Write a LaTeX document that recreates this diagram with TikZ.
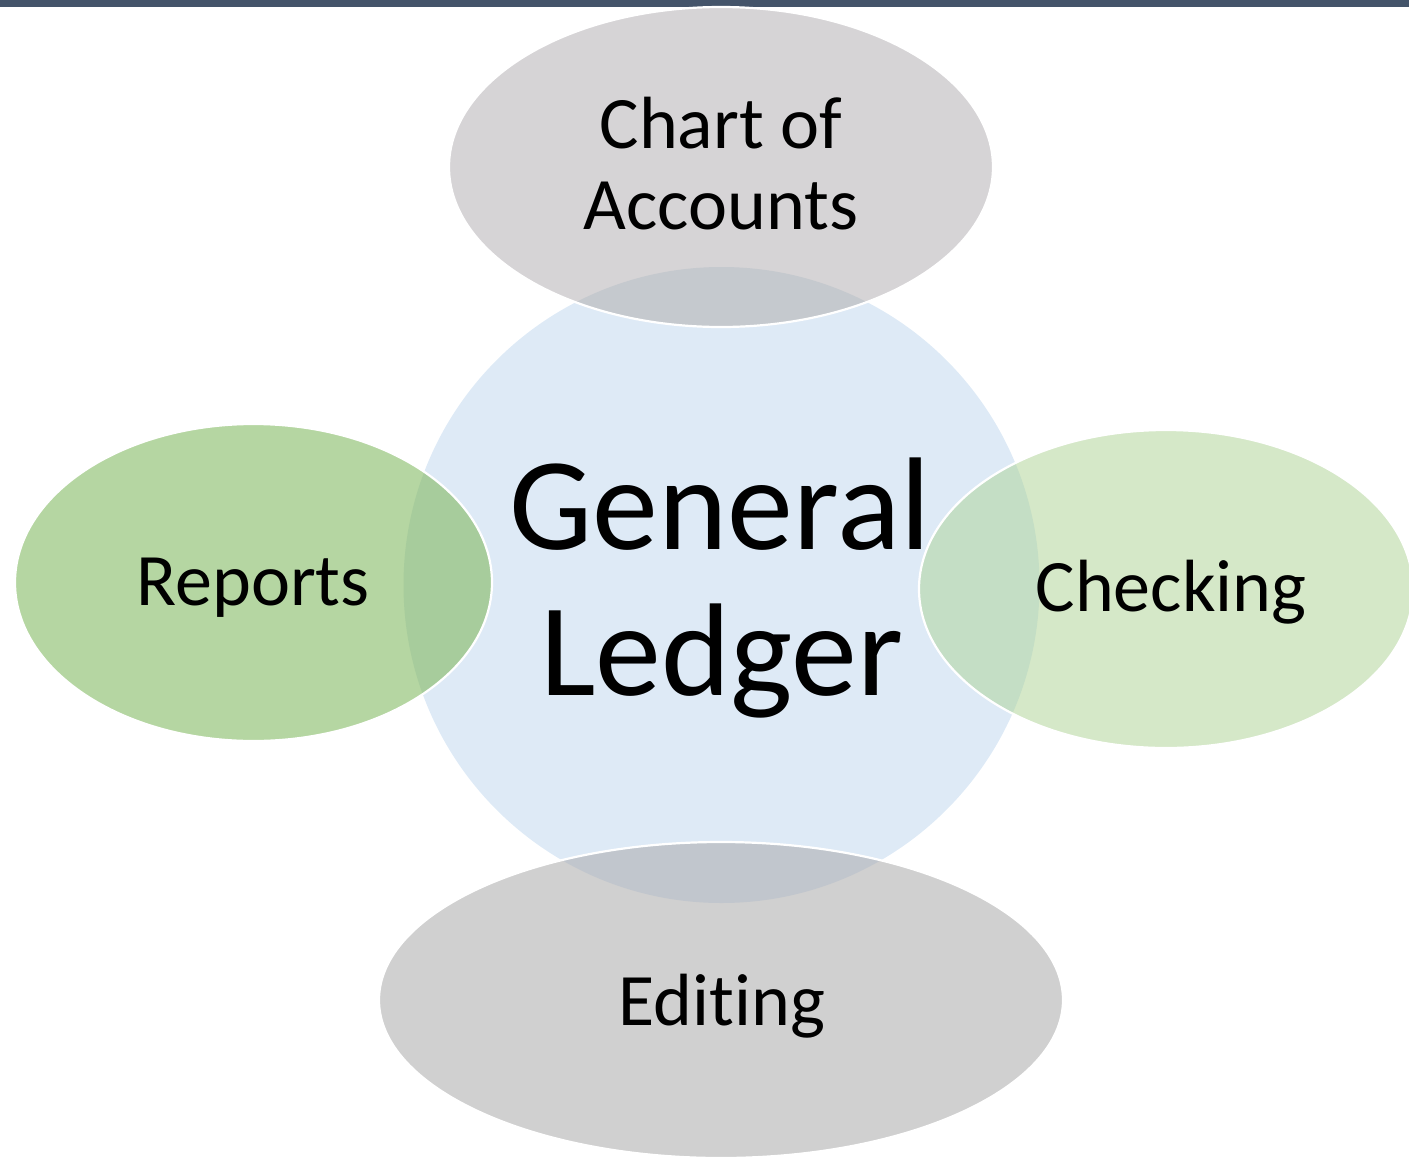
\documentclass[tikz,border=0pt]{standalone}
\usepackage{fontspec}
\setmainfont{Carlito}[Ligatures={NoCommon}]
\usetikzlibrary{shapes.geometric}
\definecolor{barcol}{HTML}{44546A}
\definecolor{circcol}{HTML}{DEEAF6}
\definecolor{topcol}{HTML}{D6D4D6}
\definecolor{topov}{HTML}{C5C9CE}
\definecolor{leftcol}{HTML}{B5D6A2}
\definecolor{leftov}{HTML}{A7CC9C}
\definecolor{rightcol}{HTML}{D5E8C8}
\definecolor{rightov}{HTML}{C4DEC5}
\definecolor{botcol}{HTML}{D0D0D0}
\definecolor{botov}{HTML}{C1C6CD}
\tikzset{
  sat/.style={ellipse, inner sep=0pt, outer sep=0pt},
  satline/.style={draw=white, line width=1.1pt},
  small/.style={font=\fontsize{37}{41}\selectfont, anchor=base, inner sep=0pt},
  big/.style={font=\fontsize{66}{73}\selectfont, anchor=base, inner sep=0pt}
}
\begin{document}
\begin{tikzpicture}[x=0.5pt, y=-0.5pt]
\useasboundingbox (0,0) rectangle (1409,1157);
\clip (0,0) rectangle (1409,1157);
% top bar
\fill[barcol] (0,0) rectangle (1409,7);
% central circle
\node[circle, fill=circcol, minimum size=318pt, inner sep=0pt, outer sep=0pt] (gl) at (721.5,585) {};
% satellites
\node[sat, fill=topcol, minimum width=272pt, minimum height=160pt] (coa) at (721,167) {};
\node[sat, fill=leftcol, minimum width=238.5pt, minimum height=158.5pt] (rep) at (253.5,582.5) {};
\node[sat, fill=rightcol, minimum width=247pt, minimum height=159pt] (chk) at (1166,589) {};
\node[sat, fill=botcol, minimum width=342pt, minimum height=158pt] (edt) at (721,1000) {};
% overlaps
\begin{scope}
  \clip (gl.center) circle [radius=159pt];
  \fill[topov] (coa.center) ellipse [x radius=136pt, y radius=80pt];
  \fill[leftov] (rep.center) ellipse [x radius=119.25pt, y radius=79.25pt];
  \fill[rightov] (chk.center) ellipse [x radius=123.5pt, y radius=79.5pt];
  \fill[botov] (edt.center) ellipse [x radius=171pt, y radius=79pt];
\end{scope}
% white outlines
\draw[satline] (coa.center) ellipse [x radius=136pt, y radius=80pt];
\draw[satline] (rep.center) ellipse [x radius=119.25pt, y radius=79.25pt];
\draw[satline] (chk.center) ellipse [x radius=123.5pt, y radius=79.5pt];
\draw[satline] (edt.center) ellipse [x radius=171pt, y radius=79pt];
% texts
\node[small] (t1) at (721,148) {Chart of};
\node[small] (t2) at (721,229) {Accounts};
\node[big] (g1) at (720,549) {General};
\node[big] (g2) at (722,695) {Ledger};
\node[small] (tr) at (253,605) {Reports};
\node[small] (tc) at (1171,611) {Checking};
\node[small] (te) at (722,1025) {Editing};
\end{tikzpicture}
\end{document}
